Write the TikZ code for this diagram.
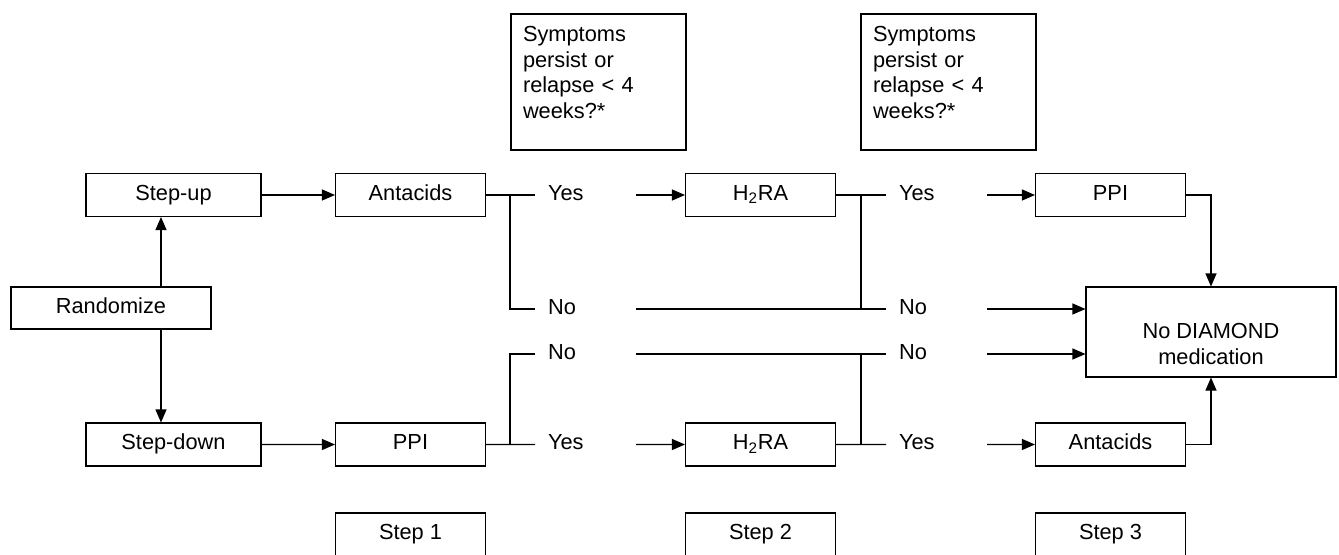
\documentclass[tikz,border=0pt]{standalone}
\usepackage{fontspec}
\setmainfont{Liberation Sans}
\usetikzlibrary{arrows.meta}

\begin{document}
\begin{tikzpicture}[auto, node distance=7cm, line width=0.6pt,
                    box node/.style={rectangle,draw,inner sep=0pt,font=\fontsize{12.4}{14.6}\selectfont},
                    main node/.style={box node,minimum width=3cm,minimum height=0.86cm,
                                      text height=9pt,text depth=2.8pt},
                    answer node/.style={text width=1.5cm,align=left,inner xsep=0.25cm,inner ysep=0pt,anchor=west,
                                        text height=9pt,text depth=2.8pt,font=\fontsize{12.4}{14.6}\selectfont},
                    note node/.style={box node,text width=3.02cm,align=left,inner xsep=0.24cm,
                                      minimum height=2.72cm},
                    end node/.style={box node,minimum width=5cm,minimum height=1.8cm,align=center},
                    arr/.style={-{Triangle[length=0.26cm,width=0.22cm]}}]

  \useasboundingbox (0,0) rectangle (26.78,-11.08);

  \node[main node,minimum width=4cm,minimum height=0.84cm] (rand) at (2.22,-6.16) {Randomize};
  \node[main node,minimum width=3.5cm] (stepup) at (3.47,-3.9) {Step-up};
  \node[main node,minimum width=3.5cm] (stepdown) at (3.47,-8.89) {Step-down};

  \node[main node] (antacids1) at (8.21,-3.9) {Antacids};
  \node[main node] (h2ra1) [right of=antacids1] {H\textsubscript{2}RA};
  \node[main node] (ppi3) [right of=h2ra1] {PPI};
  \node[main node] (ppi1) [below of=antacids1, node distance=4.99cm] {PPI};
  \node[main node] (h2ra2) [right of=ppi1] {H\textsubscript{2}RA};
  \node[main node] (antacids3) [right of=h2ra2] {Antacids};

  \node[main node] (step1) [below of=ppi1, node distance=1.8cm] {Step 1};
  \node[main node] (step2) [below of=h2ra2, node distance=1.8cm] {Step 2};
  \node[main node] (step3) [below of=antacids3, node distance=1.8cm] {Step 3};

  \node[note node] (sym1) at (11.97,-1.64) {Symptoms\\persist or\\relapse < 4\\weeks?*\\[-3.5pt]\mbox{}};
  \node[note node] (sym2) at (18.97,-1.64) {Symptoms\\persist or\\relapse < 4\\weeks?*\\[-3.5pt]\mbox{}};

  \node[end node] (nodiam) at (24.22,-6.64) {\mbox{}\\[8pt]No DIAMOND\\medication};

  \node[answer node] (yes1) at (10.7,-3.9) {Yes};
  \node[answer node] (no1) at (10.7,-6.18) {No};
  \node[answer node] (no2) at (10.7,-7.08) {No};
  \node[answer node] (yes2) at (10.7,-8.89) {Yes};
  \node[answer node] (yes3) at (17.72,-3.9) {Yes};
  \node[answer node] (no3) at (17.72,-6.18) {No};
  \node[answer node] (no4) at (17.72,-7.08) {No};
  \node[answer node] (yes4) at (17.72,-8.89) {Yes};

\path[arr]
     (stepup) edge (antacids1)
     (stepdown) edge (ppi1)
     (yes1) edge (h2ra1)
     (yes2) edge (h2ra2)
     (yes3) edge (ppi3)
     (yes4) edge (antacids3)
   ;

\path
     (antacids1) edge (yes1)
     (ppi1) edge (yes2)
     (h2ra1) edge (yes3)
     (h2ra2) edge (yes4)
     (no1) edge (no3)
     (no2) edge (no4)
   ;

  \draw ([xshift=-0.5cm]yes1.west) |- (no1.west);
  \draw ([xshift=-0.5cm]yes2.west) |- (no2.west);
  \draw ([xshift=-0.5cm]yes3.west) |- (no3.west);
  \draw ([xshift=-0.5cm]yes4.west) |- (no4.west);

  \draw[arr] ([xshift=1cm]rand.north) -- ([xshift=1cm]rand.north |- stepup.south);
  \draw[arr] ([xshift=1cm]rand.south) -- ([xshift=1cm]rand.south |- stepdown.north);
  \draw[arr] (no3.east) -- (no3.east -| nodiam.west);
  \draw[arr] (no4.east) -- (no4.east -| nodiam.west);
  \draw[arr] (ppi3.east) -| (nodiam.north);
  \draw[arr] (antacids3.east) -| (nodiam.south);

\end{tikzpicture}
\end{document}
